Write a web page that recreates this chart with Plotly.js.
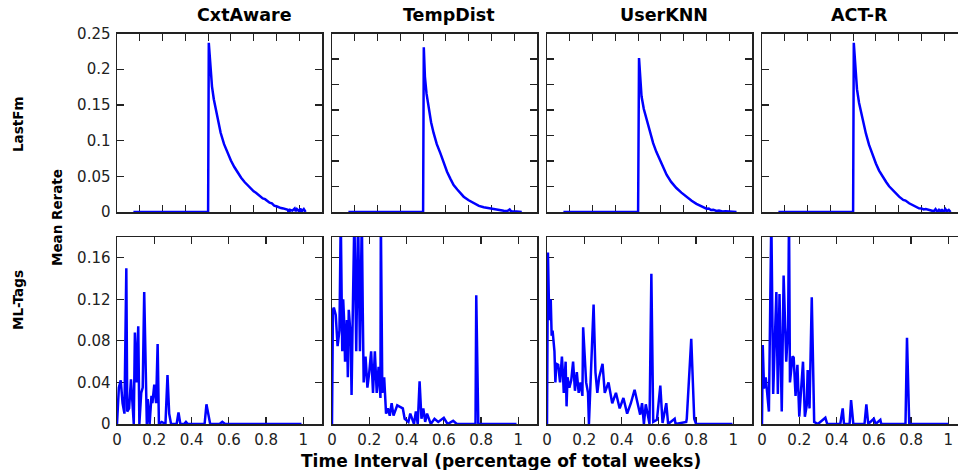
<!DOCTYPE html>
<html><head><meta charset="utf-8">
<script src="https://cdn.plot.ly/plotly-3.0.1.min.js"></script>
<style>html,body{margin:0;padding:0;background:#fff;overflow:hidden}</style>
</head><body>
<div id="chart" style="width:958px;height:470px"></div>
<script>
// Column titles (methods) and row labels (datasets)
const methods = ["CxtAware", "TempDist", "UserKNN", "ACT-R"];
const datasets = ["LastFm", "ML-Tags"];
const xTitle = "Time Interval (percentage of total weeks)";
const yTitle = "Mean Rerate";

// LastFm row: x in tick units (relative weeks), y = mean rerate
const lastfmCxtAwareX = [-3.28,0,0.03,0.10,0.17,0.25,0.35,0.45,0.55,0.70,0.85,1.00,1.15,1.30,1.45,1.60,1.80,2.00,2.10,2.20,2.30,2.40,2.50,2.60,2.70,2.80,2.90,3.00,3.10,3.20,3.30,3.40,3.50,3.55,3.60,3.70,3.80,3.85,3.90,4.00,4.05,4.10,4.20,4.28];
const lastfmCxtAwareY = [0,0,0.237,0.200,0.176,0.158,0.141,0.125,0.111,0.095,0.083,0.072,0.063,0.055,0.048,0.042,0.035,0.029,0.027,0.024,0.022,0.019,0.018,0.015,0.013,0.012,0.009,0.008,0.0065,0.0055,0.005,0.004,0.003,-0.002,0.003,0.002,0.005,0.001,0.004,0.001,0.005,0.0005,0.004,0];
const lastfmTempDistX = [-3.28,0,0.03,0.08,0.15,0.25,0.35,0.46,0.60,0.76,0.90,1.05,1.20,1.34,1.50,1.65,1.78,2.00,2.22,2.45,2.66,2.90,3.10,3.30,3.54,3.70,3.80,3.85,3.90,4.10,4.33];
const lastfmTempDistY = [0,0,0.323,0.265,0.232,0.200,0.176,0.155,0.133,0.115,0.097,0.079,0.065,0.053,0.044,0.036,0.030,0.023,0.017,0.012,0.0092,0.007,0.0053,0.004,0.0026,0.002,0.005,0.002,0.001,0.001,0];
const lastfmUserKNNX = [-3.28,0,0.04,0.10,0.15,0.25,0.37,0.50,0.66,0.80,0.95,1.10,1.25,1.45,1.68,1.90,2.12,2.35,2.56,2.78,3.00,3.10,3.20,3.30,3.44,3.55,3.70,3.85,4.02,4.15,4.32];
const lastfmUserKNNY = [0,0,0.302,0.250,0.227,0.202,0.181,0.158,0.135,0.118,0.102,0.087,0.073,0.059,0.047,0.038,0.030,0.022,0.016,0.011,0.0065,0.0070,0.004,0.0045,0.002,0.003,0.001,0.0015,0.0005,0.001,0];
const lastfmACTRX = [-3.28,0,0.03,0.10,0.17,0.26,0.34,0.45,0.56,0.70,0.85,1.00,1.14,1.30,1.45,1.58,1.80,2.02,2.20,2.30,2.46,2.60,2.70,2.89,3.00,3.10,3.19,3.33,3.45,3.55,3.62,3.70,3.77,3.85,3.90,3.97,4.05,4.12,4.20,4.28];
const lastfmACTRY = [0,0,0.237,0.198,0.172,0.153,0.141,0.124,0.110,0.094,0.080,0.068,0.058,0.049,0.042,0.036,0.028,0.0215,0.017,0.016,0.0122,0.010,0.009,0.0052,0.005,0.0035,0.004,0.0028,0.002,0.001,0.004,0.0005,0.003,0.0004,0.004,-0.001,0.004,0.001,0.003,0];

// ML-Tags row: x = fraction of total weeks, y = mean rerate
const mlCxtAwareX = [0,0.01,0.02,0.03,0.04,0.05,0.055,0.065,0.075,0.08,0.09,0.096,0.105,0.114,0.12,0.13,0.138,0.146,0.155,0.16,0.165,0.175,0.185,0.19,0.20,0.21,0.218,0.225,0.24,0.26,0.271,0.28,0.29,0.32,0.33,0.34,0.36,0.37,0.38,0.47,0.48,0.49,0.50,0.55,0.565,0.58,0.99];
const mlCxtAwareY = [0,0.035,0.042,0.020,0.010,0.150,0.012,0.015,0.043,0.030,0,0.088,0.040,0.094,0,0.030,0.035,0.127,0.030,0,0.024,0,0.027,0.020,0.038,0.020,0.077,0,0.002,0,0.047,0.010,0,0,0.011,0,0,0.002,0,0,0.019,0.010,0,0,0.002,0,0];
const mlTempDistX = [0,0.005,0.01,0.02,0.03,0.04,0.047,0.055,0.06,0.065,0.07,0.08,0.085,0.09,0.10,0.105,0.11,0.12,0.13,0.14,0.15,0.16,0.165,0.17,0.18,0.19,0.20,0.21,0.22,0.23,0.24,0.25,0.26,0.262,0.27,0.28,0.29,0.30,0.31,0.32,0.33,0.35,0.36,0.38,0.39,0.41,0.42,0.44,0.45,0.46,0.47,0.48,0.49,0.50,0.51,0.53,0.55,0.57,0.60,0.62,0.65,0.67,0.77,0.774,0.785,0.99];
const mlTempDistY = [0,0.11,0.112,0.105,0.075,0.09,0.20,0.07,0.12,0.10,0.06,0.10,0.045,0.11,0.085,0.028,0.09,0.20,0.07,0.20,0.07,0.20,0.11,0.04,0.065,0.035,0.05,0.07,0.03,0.07,0.03,0.055,0.025,0.20,0.03,0.045,0.01,0.015,0.008,0.02,0.008,0.018,0.017,0.015,0.005,0.002,0.01,0,0.012,0,0.041,0.005,0.015,0.002,0.01,0,0.005,0.002,0.006,0,0.003,0,0,0.124,0,0];
const mlUserKNNX = [0,0.005,0.012,0.02,0.025,0.03,0.04,0.045,0.05,0.06,0.07,0.08,0.085,0.09,0.10,0.105,0.11,0.12,0.13,0.14,0.15,0.16,0.17,0.18,0.19,0.194,0.21,0.22,0.225,0.24,0.25,0.26,0.27,0.28,0.298,0.31,0.33,0.35,0.37,0.39,0.41,0.43,0.45,0.47,0.50,0.51,0.52,0.53,0.55,0.56,0.57,0.59,0.608,0.62,0.64,0.65,0.685,0.69,0.747,0.75,0.774,0.79,0.80,0.995];
const mlUserKNNY = [0,0.165,0.10,0.12,0.085,0.09,0.07,0.04,0.058,0.057,0.04,0.065,0.05,0.03,0.06,0.017,0.045,0.035,0.042,0.06,0.032,0.05,0.03,0.04,0.027,0.093,0.04,0.03,0,0.06,0.115,0.05,0.03,0.045,0.058,0.03,0.04,0.02,0.03,0.015,0.025,0.01,0.02,0.033,0.009,0.02,0,0.019,0,0.1445,0.002,0.004,0.037,0.001,0.02,0,0.005,0,0.002,0.005,0.082,0.005,0,0];
const mlACTRX = [0,0.004,0.011,0.02,0.037,0.05,0.06,0.077,0.085,0.094,0.106,0.116,0.13,0.14,0.145,0.15,0.164,0.17,0.18,0.19,0.20,0.22,0.23,0.24,0.245,0.255,0.267,0.28,0.30,0.34,0.35,0.42,0.433,0.44,0.47,0.478,0.49,0.55,0.56,0.57,0.60,0.61,0.635,0.64,0.65,0.77,0.778,0.79,1.0];
const mlACTRY = [0,0.076,0.034,0.045,0.012,0.20,0.029,0.127,0.029,0.125,0.012,0.143,0.06,0.093,0.20,0.04,0.065,0.064,0.027,0.057,0.007,0.06,0.007,0.018,0.052,0.015,0.122,0.002,0,0.006,0,0,0.015,0,0,0.023,0,0,0.019,0,0.005,0,0.004,0,0,0,0.083,0,0];

// Axis tick values
const lastfmTicksX = [-3,-2,-1,0,1,2,3,4];
const lastfmRangeX = [-4, 5];
const mlRangeX = [0, 1.1];
const lastfmRangeY = [[0,0.25],[0,0.35],[0,0.35],[0,0.25]];
const mlRangeY = [0, 0.18];

const seriesX = [lastfmCxtAwareX, lastfmTempDistX, lastfmUserKNNX, lastfmACTRX, mlCxtAwareX, mlTempDistX, mlUserKNNX, mlACTRX];
const seriesY = [lastfmCxtAwareY, lastfmTempDistY, lastfmUserKNNY, lastfmACTRY, mlCxtAwareY, mlTempDistY, mlUserKNNY, mlACTRY];

// Layout geometry (pixels)
const W = 958, H = 470;
const colL = [117, 332, 547, 762];
const colW = 205;
const rowT = [33.5, 237];
const rowB = [212, 424];

const tickFont = {family: "DejaVu Sans", size: 15, color: "#222"};
const common = {
  showline: true, linecolor: "#222", linewidth: 1.5,
  ticks: "inside", ticklen: 7, tickwidth: 1.2, tickcolor: "#222",
  showgrid: false, zeroline: false, layer: "below traces",
  tickfont: tickFont, fixedrange: true
};

const layout = {
  width: W, height: H, margin: {l: 0, r: 0, t: 0, b: 0},
  paper_bgcolor: "#fff", plot_bgcolor: "#fff", showlegend: false,
  annotations: [], hovermode: false
};
const traces = [];
for (let i = 0; i < 8; i++) {
  const r = Math.floor(i / 4), c = i % 4;
  const id = i === 0 ? "" : String(i + 1);
  const left = colL[c];
  const right = Math.min(W, left + colW);
  const frac = (right - left) / colW;
  const xa = Object.assign({}, common, {
    domain: [left / W, right / W],
    anchor: "y" + id,
    mirror: "ticks"
  });
  const ya = Object.assign({}, common, {
    domain: [1 - rowB[r] / H, 1 - rowT[r] / H],
    anchor: "x" + id,
    mirror: c === 3 ? false : "ticks",
    showticklabels: c === 0,
    ticklabelstandoff: 2
  });
  if (r === 0) {
    const span = lastfmRangeX[1] - lastfmRangeX[0];
    xa.range = [lastfmRangeX[0], lastfmRangeX[0] + span * frac];
    xa.tickvals = lastfmTicksX;
    xa.showticklabels = false;
    ya.range = lastfmRangeY[c];
    ya.dtick = 0.05; ya.tick0 = 0;
  } else {
    const span = mlRangeX[1] - mlRangeX[0];
    xa.range = [mlRangeX[0], mlRangeX[0] + span * frac];
    xa.dtick = 0.2; xa.tick0 = 0;
    xa.showticklabels = true;
    xa.ticklabelstandoff = 1;
    ya.range = mlRangeY;
    ya.dtick = 0.04; ya.tick0 = 0;
  }
  layout["xaxis" + id] = xa;
  layout["yaxis" + id] = ya;
  traces.push({
    type: "scatter", mode: "lines",
    x: seriesX[i], y: seriesY[i],
    xaxis: "x" + id, yaxis: "y" + id,
    line: {color: "#0000ff", width: 2.5},
    hoverinfo: "skip"
  });
}

const titleXs = [244, 449, 664, 859];
methods.forEach((m, c) => {
  layout.annotations.push({
    text: "<b>" + m + "</b>", xref: "paper", yref: "paper",
    x: titleXs[c] / W, y: 1 - 15 / H, xanchor: "center", yanchor: "middle",
    showarrow: false, font: {family: "DejaVu Sans", size: 17.5, color: "#000"}
  });
});
const rowLabelYs = [124, 300];
datasets.forEach((d, r) => {
  layout.annotations.push({
    text: "<b>" + d + "</b>", xref: "paper", yref: "paper",
    x: 18 / W, y: 1 - rowLabelYs[r] / H, xanchor: "center", yanchor: "middle",
    textangle: -90, showarrow: false,
    font: {family: "DejaVu Sans", size: 13.5, color: "#000"}
  });
});
layout.annotations.push({
  text: "<b>" + yTitle + "</b>", xref: "paper", yref: "paper",
  x: 57 / W, y: 1 - 218 / H, xanchor: "center", yanchor: "middle",
  textangle: -90, showarrow: false,
  font: {family: "DejaVu Sans", size: 13.5, color: "#000"}
});
layout.annotations.push({
  text: "<b>" + xTitle + "</b>", xref: "paper", yref: "paper",
  x: 501 / W, y: 1 - 461 / H, xanchor: "center", yanchor: "middle",
  showarrow: false, borderpad: 0,
  font: {family: "DejaVu Sans", size: 17, color: "#000"}
});

Plotly.newPlot("chart", traces, layout, {staticPlot: true, displayModeBar: false});
</script>
</body></html>
